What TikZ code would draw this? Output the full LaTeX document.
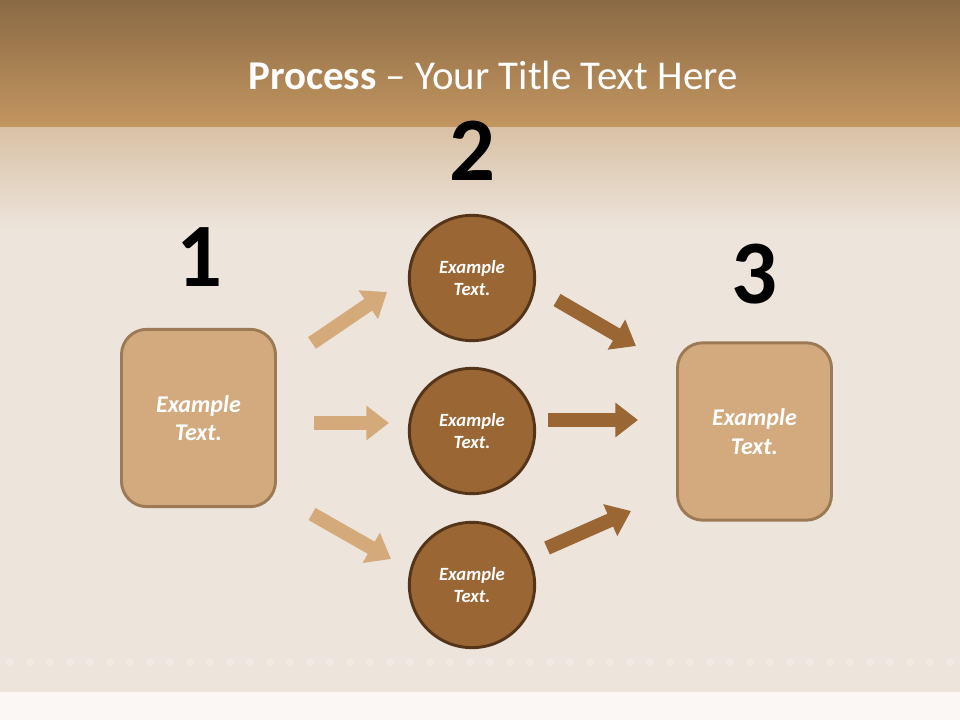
\documentclass[tikz,border=0pt]{standalone}
\usepackage{fontspec}
\setmainfont{Carlito}
\usetikzlibrary{arrows.meta}
\definecolor{bandtop}{HTML}{8A6A45}
\definecolor{bandbot}{HTML}{C49660}
\definecolor{papertop}{HTML}{D9C2A6}
\definecolor{paper}{HTML}{EDE4DB}
\definecolor{paperfoot}{HTML}{FBF7F4}
\definecolor{boxfill}{HTML}{D3AA7E}
\definecolor{boxline}{HTML}{9B7A55}
\definecolor{circfill}{HTML}{9A6634}
\definecolor{circline}{HTML}{553519}
\definecolor{lightarrow}{HTML}{D4AA7A}
\definecolor{darkarrow}{HTML}{9A6634}
\begin{document}
\begin{tikzpicture}[x=0.75pt,y=-0.75pt,
  stepbox/.style={draw=boxline,line width=2.2pt,fill=boxfill,rounded corners=19pt,
    minimum width=115.5pt,minimum height=133pt,text=white,align=center,
    font=\fontsize{18}{21.5}\selectfont\bfseries\itshape},
  stepcirc/.style={circle,draw=circline,line width=2.2pt,fill=circfill,
    minimum size=94pt,inner sep=0pt,text=white,align=center,
    font=\fontsize{14}{17}\selectfont\bfseries\itshape},
  num/.style={font=\fontsize{68}{68}\selectfont\bfseries,text=black},
  arr/.style={line width=10.5pt,-{Triangle[width=25pt,length=17pt]}},
  larr/.style={arr,draw=lightarrow},
  darr/.style={arr,draw=darkarrow}]
\useasboundingbox (0,0) rectangle (960,720);
% background
\shade[top color=bandtop,bottom color=bandbot] (0,0) rectangle (960,128);
\fill[paper] (0,128) rectangle (960,692);
\shade[top color=papertop,bottom color=paper] (0,128) rectangle (960,230);
\fill[paperfoot] (0,692) rectangle (960,720);
\foreach \i in {0,...,47}{
  \fill[white,opacity=0.25] (10+\i*20,662) circle (4);
}
% title
\node (title) at (493,75) {\fontsize{30.7}{36}\selectfont\color{white}\textbf{Process} – Your Title Text Here};
% numbers
\node[num] (n1) at (199,257) {1};
\node[num] (n2) at (472,151) {2};
\node[num] (n3) at (754,274) {3};
% boxes and circles
\node[stepbox] (b1) at (198.5,418) {Example\\Text.};
\node[stepbox] (b3) at (754.5,431.5) {Example\\Text.};
\node[stepcirc] (c1) at (472,278) {Example\\Text.};
\node[stepcirc] (c2) at (472,431) {Example\\Text.};
\node[stepcirc] (c3) at (472,585) {Example\\Text.};
% arrow end points
\coordinate (la1) at (312,343); \coordinate (lb1) at (387,292);
\coordinate (la2) at (314,423); \coordinate (lb2) at (389,423);
\coordinate (la3) at (312,514); \coordinate (lb3) at (391,559);
\coordinate (ra1) at (557,300); \coordinate (rb1) at (636,346);
\coordinate (ra2) at (548,420); \coordinate (rb2) at (638,420);
\coordinate (ra3) at (547,548); \coordinate (rb3) at (631,511);
\draw[larr] (la1) -- (lb1);
\draw[larr] (la2) -- (lb2);
\draw[larr] (la3) -- (lb3);
\draw[darr] (ra1) -- (rb1);
\draw[darr] (ra2) -- (rb2);
\draw[darr] (ra3) -- (rb3);
\end{tikzpicture}
\end{document}
